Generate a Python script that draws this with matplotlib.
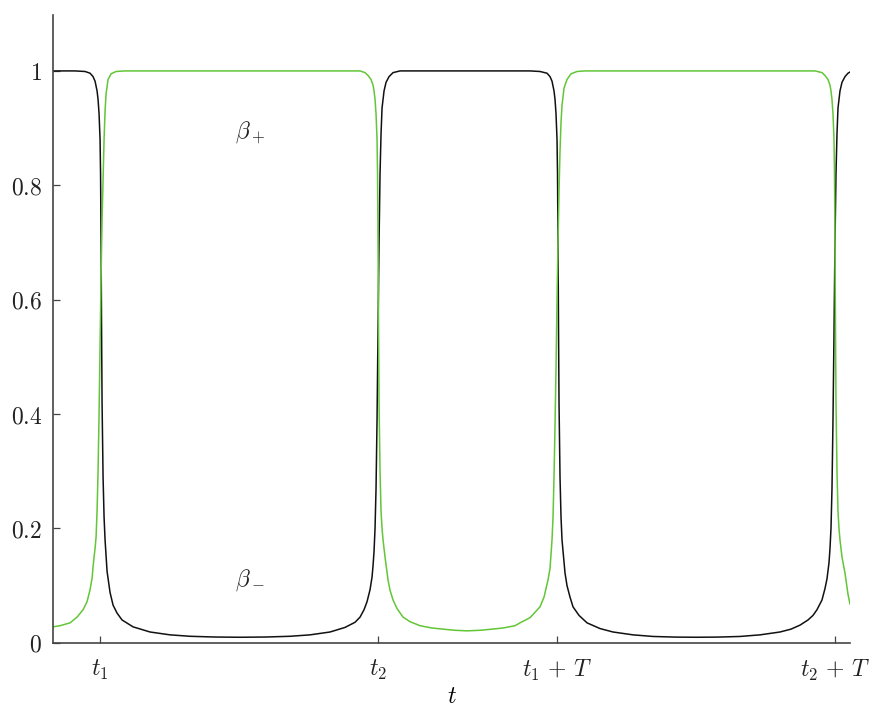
import numpy as np
import matplotlib.pyplot as plt

plt.rcParams['mathtext.fontset'] = 'cm'
plt.rcParams['font.family'] = 'serif'

# --- Switching times (T is the period) ---
t1 = 0.47
t2 = 3.25
T = 4.57
t_end = 7.97

# --- beta_minus (black) ---
t_minus = [0.00, 0.22, 0.32, 0.37, 0.40, 0.42, 0.44, 0.45, 0.46, 0.47, 0.475, 0.48, 0.485, 0.49,
           0.50, 0.51, 0.52, 0.54, 0.57, 0.60, 0.64, 0.69, 0.80, 0.97, 1.17, 1.37, 1.62, 1.87,
           2.12, 2.37, 2.57, 2.77, 2.92, 3.02, 3.07, 3.11, 3.14, 3.17, 3.19, 3.20, 3.21, 3.22,
           3.23, 3.24, 3.25, 3.26, 3.27, 3.28, 3.29, 3.31, 3.33, 3.36, 3.40, 3.47, 4.77, 4.87,
           4.94, 4.97, 4.99, 5.01, 5.02, 5.03, 5.04, 5.045, 5.05, 5.055, 5.06, 5.07, 5.08, 5.09,
           5.12, 5.14, 5.17, 5.20, 5.26, 5.34, 5.47, 5.60, 5.80, 6.00, 6.22, 6.43, 6.65, 6.87,
           7.07, 7.27, 7.38, 7.47, 7.55, 7.60, 7.64, 7.69, 7.72, 7.74, 7.76, 7.77, 7.78, 7.79,
           7.80, 7.81, 7.82, 7.83, 7.84, 7.85, 7.87, 7.89, 7.92, 7.95, 7.97]
beta_minus = [1.000, 1.000, 0.999, 0.996, 0.990, 0.982, 0.965, 0.950, 0.925, 0.880, 0.820, 0.700,
              0.550, 0.420, 0.290, 0.220, 0.180, 0.125, 0.088, 0.066, 0.052, 0.040, 0.028, 0.019,
              0.014, 0.0115, 0.0102, 0.0098, 0.0102, 0.0115, 0.014, 0.019, 0.027, 0.036, 0.045,
              0.058, 0.072, 0.093, 0.115, 0.135, 0.160, 0.200, 0.270, 0.390, 0.550, 0.700, 0.820,
              0.890, 0.935, 0.965, 0.980, 0.990, 0.997, 1.000, 1.000, 0.999, 0.996, 0.990, 0.982,
              0.965, 0.950, 0.925, 0.880, 0.820, 0.700, 0.550, 0.420, 0.290, 0.220, 0.180, 0.122,
              0.100, 0.080, 0.063, 0.048, 0.035, 0.025, 0.019, 0.014, 0.0112, 0.0101, 0.0098,
              0.0101, 0.0112, 0.014, 0.019, 0.024, 0.031, 0.040, 0.048, 0.058, 0.075, 0.095, 0.112,
              0.140, 0.165, 0.200, 0.270, 0.390, 0.540, 0.700, 0.820, 0.890, 0.935, 0.965, 0.980,
              0.990, 0.996, 0.998]

# --- beta_plus (green) ---
t_plus = [0.00, 0.07, 0.17, 0.24, 0.30, 0.34, 0.37, 0.39, 0.40, 0.41, 0.42, 0.43, 0.44, 0.45,
          0.46, 0.47, 0.48, 0.49, 0.50, 0.51, 0.52, 0.53, 0.55, 0.58, 0.63, 0.72, 3.07, 3.12,
          3.15, 3.18, 3.20, 3.21, 3.22, 3.23, 3.24, 3.245, 3.25, 3.255, 3.26, 3.27, 3.28, 3.29,
          3.30, 3.32, 3.35, 3.37, 3.40, 3.44, 3.50, 3.57, 3.67, 3.79, 3.90, 4.02, 4.14, 4.27,
          4.39, 4.50, 4.62, 4.67, 4.77, 4.87, 4.91, 4.95, 4.97, 4.99, 5.00, 5.01, 5.02, 5.03,
          5.04, 5.05, 5.06, 5.07, 5.08, 5.09, 5.11, 5.14, 5.18, 5.24, 5.32, 7.62, 7.69, 7.72,
          7.75, 7.77, 7.78, 7.79, 7.80, 7.81, 7.815, 7.82, 7.825, 7.83, 7.84, 7.85, 7.86, 7.87,
          7.89, 7.92, 7.95, 7.97]
beta_plus = [0.028, 0.030, 0.035, 0.045, 0.058, 0.072, 0.093, 0.113, 0.133, 0.150, 0.165, 0.185,
             0.230, 0.300, 0.400, 0.520, 0.640, 0.740, 0.810, 0.880, 0.930, 0.960, 0.985, 0.995,
             0.999, 1.000, 1.000, 0.997, 0.992, 0.985, 0.975, 0.965, 0.950, 0.925, 0.880, 0.820,
             0.700, 0.550, 0.420, 0.300, 0.230, 0.200, 0.180, 0.150, 0.110, 0.092, 0.075, 0.060,
             0.045, 0.037, 0.030, 0.026, 0.024, 0.022, 0.021, 0.022, 0.024, 0.026, 0.030, 0.035,
             0.044, 0.063, 0.080, 0.110, 0.130, 0.180, 0.220, 0.290, 0.380, 0.480, 0.600, 0.700,
             0.790, 0.860, 0.910, 0.940, 0.970, 0.985, 0.995, 0.999, 1.000, 1.000, 0.997, 0.992,
             0.985, 0.975, 0.965, 0.950, 0.925, 0.880, 0.820, 0.700, 0.550, 0.420, 0.300, 0.230,
             0.200, 0.180, 0.150, 0.122, 0.085, 0.068]

y_ticks = [0, 0.2, 0.4, 0.6, 0.8, 1]
x_tick_labels = [r'$t_1$', r'$t_2$', r'$t_1\,+\,T$', r'$t_2\,+\,T$']

# --- Figure ---
fig = plt.figure(figsize=(8.7, 7.08), dpi=100)
ax = fig.add_axes([0.061, 0.092, 0.916, 0.887])

ax.plot(t_minus, beta_minus, color='#111111', lw=1.1)
ax.plot(t_plus, beta_plus, color='#62c636', lw=1.1)

ax.text(1.97, 0.893, r'$\beta_+$', fontsize=17, ha='center', va='center', color='#222222')
ax.text(1.97, 0.11, r'$\beta_-$', fontsize=17, ha='center', va='center', color='#222222')

ax.set_xlim(0, t_end)
ax.set_ylim(0, 1.098)

ax.set_xticks([t1, t2, t1 + T, t2 + T])
ax.set_xticklabels(x_tick_labels, fontsize=17)
ax.set_yticks(y_ticks)
ax.set_yticklabels([f'${v:g}$' for v in y_ticks], fontsize=17)
ax.set_xlabel(r'$t$', fontsize=17, labelpad=1)

for side in ['top', 'right']:
    ax.spines[side].set_visible(False)
for side in ['left', 'bottom']:
    ax.spines[side].set_color('#444444')
    ax.spines[side].set_linewidth(1.2)

ax.tick_params(direction='in', length=5, width=0.9, color='#444444', labelcolor='#222222')
ax.tick_params(axis='x', pad=11)
ax.tick_params(axis='y', pad=8)

fig.savefig('out.png', dpi=100)
